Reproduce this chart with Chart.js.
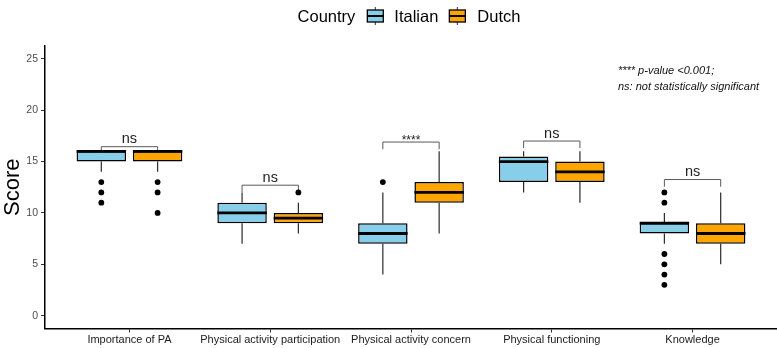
<!DOCTYPE html>
<html>
<head>
<meta charset="utf-8">
<script src="https://cdn.jsdelivr.net/npm/chart.js@4.4.1/dist/chart.umd.min.js"></script>
<style>
html, body { margin: 0; padding: 0; background: #fff; }
#wrap { width: 777px; height: 348px; }
</style>
</head>
<body>
<div id="wrap"><canvas id="scoreChart"></canvas></div>
<script>
const categories = ['Importance of PA', 'Physical activity participation', 'Physical activity concern', 'Physical functioning', 'Knowledge'];
const countries = ['Italian', 'Dutch'];
const yTicks = [0, 5, 10, 15, 20, 25];

const italianQ1 = [15, 9, 7, 13, 8];
const italianMedian = [16, 10, 8, 15, 9];
const italianQ3 = [16, 11, 9, 15.5, 9];
const italianLow = [14, 7, 4, 12, 7];
const italianHigh = [16, 12, 12, 16, 10];
const italianOutliers = [[13, 12, 11], [], [13], [], [12, 11, 6, 5, 4, 3]];

const dutchQ1 = [15, 9, 11, 13, 7];
const dutchMedian = [16, 9.5, 12, 14, 8];
const dutchQ3 = [16, 10, 13, 15, 9];
const dutchLow = [14, 8, 8, 11, 5];
const dutchHigh = [16, 11, 16, 16, 12];
const dutchOutliers = [[13, 12, 10], [12], [], [], []];

const bracketHeights = [16.45, 12.7, 16.9, 17.0, 13.25];
const bracketLabels = ['ns', 'ns', '****', 'ns', 'ns'];
const noteLines = ['**** p-value <0.001;', 'ns: not statistically significant'];

const groups = [
    { q1: italianQ1, median: italianMedian, q3: italianQ3, low: italianLow, high: italianHigh, outliers: italianOutliers },
    { q1: dutchQ1, median: dutchMedian, q3: dutchQ3, low: dutchLow, high: dutchHigh, outliers: dutchOutliers }
];
const fills = ['#87CEEB', '#FFA500'];
const FONT = '"Liberation Sans", Arial, sans-serif';

const boxPlotPlugin = {
    id: 'boxPlot',
    beforeDatasetsDraw(chart) {
        const ctx = chart.ctx;
        const y = chart.scales.y;
        ctx.save();
        // significance brackets
        ctx.strokeStyle = '#595959';
        ctx.lineWidth = 1;
        ctx.fillStyle = '#222';
        ctx.textAlign = 'center';
        bracketHeights.forEach((h, i) => {
            const a = chart.getDatasetMeta(0).data[i].x;
            const b = chart.getDatasetMeta(1).data[i].x;
            const top = y.getPixelForValue(h);
            const tip = y.getPixelForValue(h - 0.7);
            ctx.beginPath();
            ctx.moveTo(a, tip);
            ctx.lineTo(a, top);
            ctx.lineTo(b, top);
            ctx.lineTo(b, tip);
            ctx.stroke();
            ctx.textBaseline = 'alphabetic';
            if (bracketLabels[i] === 'ns') {
                ctx.font = '14.5px ' + FONT;
                ctx.fillText('ns', (a + b) / 2, top - 3.5);
            } else {
                ctx.font = '12px ' + FONT;
                ctx.fillText(bracketLabels[i], (a + b) / 2, top + 2);
            }
        });
        // whiskers
        ctx.strokeStyle = '#2b2b2b';
        ctx.lineWidth = 1.2;
        groups.forEach((g, d) => {
            chart.getDatasetMeta(d).data.forEach((bar, i) => {
                ctx.beginPath();
                ctx.moveTo(bar.x, y.getPixelForValue(g.high[i]));
                ctx.lineTo(bar.x, y.getPixelForValue(g.q3[i]));
                ctx.moveTo(bar.x, y.getPixelForValue(g.q1[i]));
                ctx.lineTo(bar.x, y.getPixelForValue(g.low[i]));
                ctx.stroke();
            });
        });
        ctx.restore();
    },
    afterDatasetsDraw(chart) {
        const ctx = chart.ctx;
        const y = chart.scales.y;
        ctx.save();
        groups.forEach((g, d) => {
            chart.getDatasetMeta(d).data.forEach((bar, i) => {
                const my = y.getPixelForValue(g.median[i]);
                ctx.strokeStyle = '#000';
                ctx.lineWidth = 2.8;
                ctx.beginPath();
                ctx.moveTo(bar.x - bar.width / 2, my);
                ctx.lineTo(bar.x + bar.width / 2, my);
                ctx.stroke();
                ctx.fillStyle = '#000';
                g.outliers[i].forEach(v => {
                    ctx.beginPath();
                    ctx.arc(bar.x, y.getPixelForValue(v), 2.9, 0, Math.PI * 2);
                    ctx.fill();
                });
            });
        });
        ctx.restore();
    },
    afterDraw(chart) {
        const ctx = chart.ctx;
        const area = chart.chartArea;
        const x = chart.scales.x;
        const y = chart.scales.y;
        ctx.save();
        // legend
        ctx.font = '16.5px ' + FONT;
        ctx.textBaseline = 'middle';
        ctx.textAlign = 'left';
        ctx.fillStyle = '#000';
        const cy = 16;
        const parts = [
            { text: 'Country', gap: 10 },
            { key: 0, gap: 9 },
            { text: countries[0], gap: 9 },
            { key: 1, gap: 10 },
            { text: countries[1], gap: 0 }
        ];
        let total = 0;
        parts.forEach(p => {
            p.w = p.text !== undefined ? ctx.measureText(p.text).width : 20;
            total += p.w + p.gap;
        });
        let cx = (area.left + area.right) / 2 - total / 2 - 2;
        parts.forEach(p => {
            if (p.text !== undefined) {
                ctx.fillText(p.text, cx, cy + 1);
            } else {
                ctx.strokeStyle = '#333';
                ctx.lineWidth = 1;
                ctx.beginPath();
                ctx.moveTo(cx + 10, cy - 9);
                ctx.lineTo(cx + 10, cy + 9);
                ctx.stroke();
                ctx.fillStyle = fills[p.key];
                ctx.fillRect(cx + 2, cy - 6, 16, 12);
                ctx.strokeStyle = '#000';
                ctx.lineWidth = 1.3;
                ctx.strokeRect(cx + 2, cy - 6, 16, 12);
                ctx.lineWidth = 2;
                ctx.beginPath();
                ctx.moveTo(cx + 2, cy);
                ctx.lineTo(cx + 18, cy);
                ctx.stroke();
                ctx.fillStyle = '#000';
            }
            cx += p.w + p.gap;
        });
        // note
        ctx.fillStyle = '#111';
        ctx.font = 'italic 11px ' + FONT;
        ctx.fillText(noteLines[0], x.getPixelForValue(3.47), y.getPixelForValue(23.8));
        ctx.fillText(noteLines[1], x.getPixelForValue(3.47), y.getPixelForValue(22.25));
        ctx.restore();
    }
};

const ctx = document.getElementById('scoreChart').getContext('2d');
new Chart(ctx, {
    type: 'bar',
    data: {
        datasets: groups.map((g, d) => ({
            label: countries[d],
            data: categories.map((c, i) => ({ x: i, y: [g.q1[i], g.q3[i]] })),
            backgroundColor: fills[d],
            borderColor: '#000',
            borderWidth: 1.5,
            borderSkipped: false,
            categoryPercentage: 0.8,
            barPercentage: 0.878
        }))
    },
    options: {
        responsive: true,
        maintainAspectRatio: false,
        animation: false,
        layout: { padding: { top: 46, right: 0, left: 0, bottom: 0 } },
        plugins: {
            legend: { display: false },
            tooltip: { enabled: false }
        },
        scales: {
            x: {
                type: 'linear',
                offset: false,
                min: -0.6,
                max: 4.6,
                afterBuildTicks: axis => { axis.ticks = categories.map((c, i) => ({ value: i })); },
                afterFit: axis => { axis.height = 19.5; },
                grid: { display: true, offset: false, drawOnChartArea: false, drawTicks: true, tickLength: 4, color: '#333' },
                border: { display: true, color: '#000', width: 1.5 },
                ticks: {
                    autoSkip: false,
                    maxRotation: 0,
                    minRotation: 0,
                    padding: 1,
                    color: '#1a1a1a',
                    font: { family: FONT, size: 11 },
                    callback: value => categories[value]
                }
            },
            y: {
                min: -1.25,
                max: 26.25,
                afterBuildTicks: axis => { axis.ticks = yTicks.map(v => ({ value: v })); },
                afterFit: axis => { axis.width = 45; },
                grid: { display: true, drawOnChartArea: false, drawTicks: true, tickLength: 4, color: '#333' },
                border: { display: true, color: '#000', width: 1.5 },
                ticks: {
                    padding: 3,
                    color: '#4d4d4d',
                    font: { family: FONT, size: 10.5 }
                },
                title: {
                    display: true,
                    text: 'Score',
                    color: '#000',
                    padding: { top: 0, bottom: 0 },
                    font: { family: FONT, size: 22 }
                }
            }
        }
    },
    plugins: [boxPlotPlugin]
});
</script>
</body>
</html>
